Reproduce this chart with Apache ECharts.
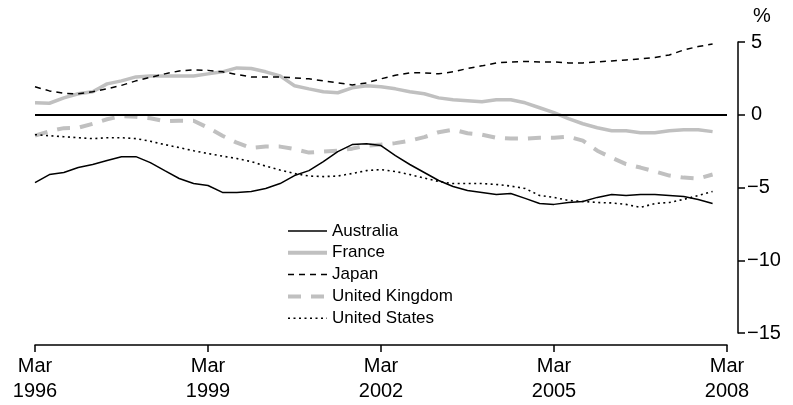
<!DOCTYPE html>
<html>
<head>
<meta charset="utf-8">
<script src="https://cdn.jsdelivr.net/npm/echarts@6/dist/echarts.min.js"></script>
<style>
html,body{margin:0;padding:0;background:#fff;}
#chart{width:793px;height:405px;}
</style>
</head>
<body>
<div id="chart"></div>
<script>
// Quarterly categories Mar 1996 .. Mar 2008
const months = ['Mar','Jun','Sep','Dec'];
const categories = [];
for (let y = 1996; y <= 2008; y++) {
  for (let m = 0; m < 4; m++) {
    if (y === 2008 && m > 0) break;
    categories.push(months[m] + ' ' + y);
  }
}
const yTicks = [5, 0, -5, -10, -15];

const australia = [-4.66,-4.11,-3.97,-3.63,-3.42,-3.15,-2.88,-2.88,-3.29,-3.84,-4.38,-4.73,-4.86,-5.34,-5.34,-5.27,-5.07,-4.73,-4.18,-3.84,-3.22,-2.53,-2.05,-1.99,-2.12,-2.81,-3.42,-3.97,-4.52,-4.93,-5.21,-5.34,-5.48,-5.41,-5.75,-6.10,-6.16,-6.03,-5.96,-5.68,-5.48,-5.55,-5.48,-5.48,-5.55,-5.62,-5.82,-6.10];
const france = [0.82,0.79,1.16,1.44,1.58,2.12,2.33,2.60,2.67,2.67,2.67,2.67,2.81,2.95,3.22,3.18,2.95,2.67,1.99,1.78,1.58,1.51,1.85,1.99,1.92,1.78,1.58,1.44,1.16,1.03,0.96,0.89,1.03,1.03,0.82,0.48,0.14,-0.27,-0.62,-0.89,-1.10,-1.10,-1.23,-1.23,-1.10,-1.03,-1.03,-1.16];
const japan = [1.92,1.64,1.47,1.44,1.58,1.78,2.02,2.33,2.57,2.81,3.01,3.08,3.05,2.95,2.77,2.60,2.60,2.60,2.53,2.47,2.33,2.19,2.05,2.19,2.47,2.71,2.88,2.88,2.81,2.95,3.18,3.36,3.56,3.63,3.66,3.63,3.63,3.56,3.56,3.63,3.70,3.77,3.84,3.94,4.11,4.45,4.69,4.86];
const uk = [-1.44,-1.13,-0.92,-0.89,-0.62,-0.31,-0.10,-0.14,-0.24,-0.45,-0.41,-0.41,-0.89,-1.44,-1.92,-2.29,-2.19,-2.19,-2.36,-2.60,-2.53,-2.47,-2.33,-2.12,-2.05,-1.95,-1.78,-1.54,-1.20,-1.03,-1.27,-1.37,-1.58,-1.64,-1.64,-1.58,-1.58,-1.51,-1.78,-2.47,-2.95,-3.39,-3.63,-3.90,-4.18,-4.32,-4.38,-4.11];
const us = [-1.37,-1.44,-1.51,-1.58,-1.64,-1.58,-1.58,-1.64,-1.82,-2.05,-2.26,-2.47,-2.67,-2.84,-3.01,-3.22,-3.53,-3.80,-4.04,-4.21,-4.25,-4.21,-4.04,-3.84,-3.77,-3.90,-4.11,-4.35,-4.59,-4.73,-4.73,-4.73,-4.79,-4.90,-5.07,-5.55,-5.68,-5.89,-5.96,-6.03,-6.06,-6.16,-6.37,-6.10,-6.03,-5.82,-5.55,-5.27];

const FONT = '"Liberation Sans", Arial, sans-serif';
const GRAY = '#c0c0c0';

const chart = echarts.init(document.getElementById('chart'), null, {renderer: 'canvas'});
chart.setOption({
  animation: false,
  backgroundColor: '#fff',
  grid: {left: 35, right: 66, top: 42, bottom: 72, containLabel: false},
  graphic: [{
    type: 'text', left: 753, top: 6,
    style: {text: '%', font: '20px ' + FONT, fill: '#000'}
  }],
  legend: {
    orient: 'vertical', left: 281, top: 215,
    itemWidth: 39, itemHeight: 22, itemGap: -0.2,
    itemStyle: {opacity: 0},
    textStyle: {fontFamily: FONT, fontSize: 17, color: '#000', lineHeight: 22},
    data: [
      {name: 'Australia', lineStyle: {width: 1.5}},
      {name: 'France', lineStyle: {width: 4}},
      {name: 'Japan', lineStyle: {width: 1.5}},
      {name: 'United Kingdom', lineStyle: {width: 4}},
      {name: 'United States', lineStyle: {width: 1.5}}
    ]
  },
  xAxis: {
    type: 'category', data: categories, boundaryGap: false,
    offset: 12,
    axisLine: {show: true, onZero: false, lineStyle: {color: '#000', width: 1.5}},
    axisTick: {show: true, interval: 11, length: 7, inside: false, lineStyle: {color: '#000', width: 1.5}},
    axisLabel: {
      interval: 11, margin: 9, color: '#000', fontFamily: FONT, fontSize: 20, lineHeight: 25,
      formatter: v => v.replace(' ', '\n')
    },
    splitLine: {show: false}
  },
  yAxis: {
    type: 'value', position: 'right', offset: 11,
    min: -15, max: 5, interval: 5,
    axisLine: {show: true, lineStyle: {color: '#000', width: 1.5}},
    axisTick: {show: true, length: 7, inside: false, lineStyle: {color: '#000', width: 1.5}},
    axisLabel: {
      margin: 9, color: '#000', fontFamily: FONT, fontSize: 20,
      formatter: v => (v < 0 ? '\u2212' + Math.abs(v) : '\u2009' + v)
    },
    splitLine: {show: false}
  },
  series: [
    {name: 'Australia', type: 'line', data: australia, symbol: 'none', z: 5,
     lineStyle: {color: '#000', width: 1.5, type: 'solid'}, itemStyle: {color: '#000'},
     markLine: {silent: true, symbol: 'none', label: {show: false},
       lineStyle: {color: '#000', width: 1.8, type: 'solid'}, data: [{yAxis: 0}]}},
    {name: 'France', type: 'line', data: france, symbol: 'none', z: 2,
     lineStyle: {color: GRAY, width: 3.5, type: 'solid'}, itemStyle: {color: GRAY}},
    {name: 'Japan', type: 'line', data: japan, symbol: 'none', z: 4,
     lineStyle: {color: '#000', width: 1.5, type: [6, 5]}, itemStyle: {color: '#000'}},
    {name: 'United Kingdom', type: 'line', data: uk, symbol: 'none', z: 2,
     lineStyle: {color: GRAY, width: 4, type: [13, 10]}, itemStyle: {color: GRAY}},
    {name: 'United States', type: 'line', data: us, symbol: 'none', z: 4,
     lineStyle: {color: '#000', width: 1.6, type: [2, 3.5]}, itemStyle: {color: '#000'}}
  ]
});
</script>
</body>
</html>
